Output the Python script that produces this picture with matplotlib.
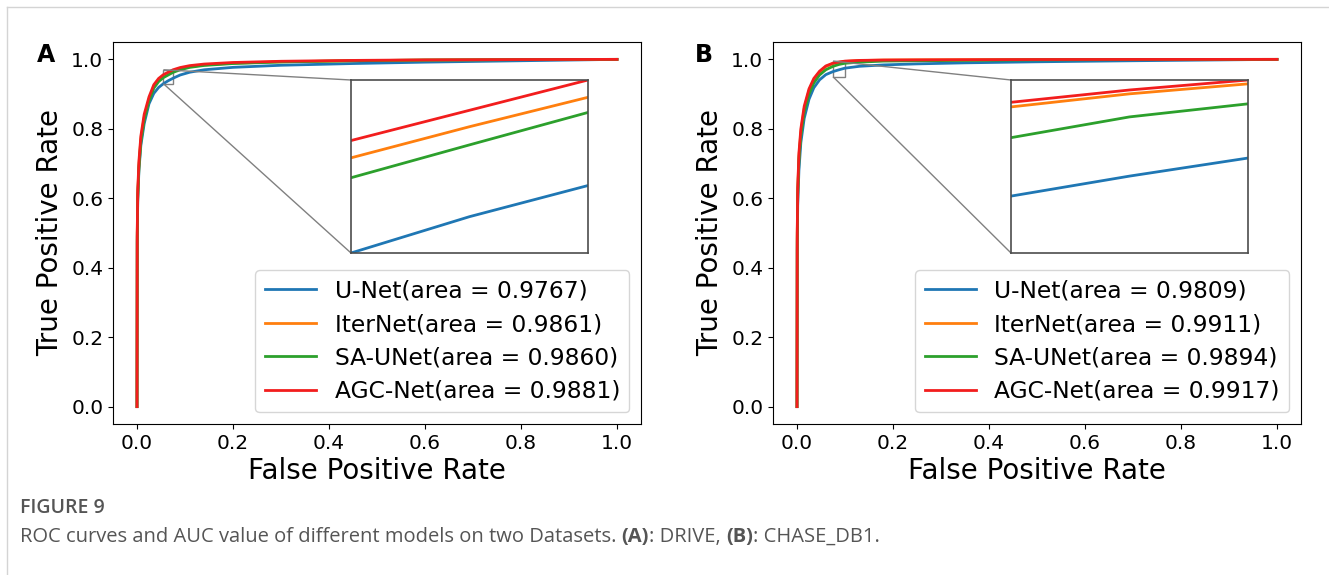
import matplotlib
matplotlib.use("Agg")
import matplotlib.pyplot as plt
from matplotlib.lines import Line2D
from mpl_toolkits.axes_grid1.inset_locator import mark_inset

# modelos e cores
modelos = ["U-Net", "IterNet", "SA-UNet", "AGC-Net"]
cores = ["#1f77b4", "#ff7f0e", "#2ca02c", "#f21d1d"]

# (A) DRIVE
auc_drive = [0.9767, 0.9861, 0.9860, 0.9881]
fpr_drive = [0, 0.0005, 0.0015, 0.004, 0.008, 0.015, 0.025, 0.035, 0.045, 0.055, 0.065,
             0.075, 0.09, 0.11, 0.14, 0.2, 0.3, 0.45, 0.6, 0.8, 1.0]
tpr_drive_unet = [0, 0.47, 0.59, 0.68, 0.752, 0.815, 0.872, 0.902, 0.919, 0.930, 0.9384,
                  0.9456, 0.955, 0.963, 0.970, 0.977, 0.983, 0.988, 0.992, 0.996, 1.0]
tpr_drive_iternet = [0, 0.49, 0.61, 0.695, 0.77, 0.833, 0.885, 0.921, 0.940, 0.952, 0.9592,
                     0.966, 0.973, 0.979, 0.984, 0.989, 0.993, 0.996, 0.998, 0.9993, 1.0]
tpr_drive_saunet = [0, 0.48, 0.60, 0.688, 0.762, 0.826, 0.88, 0.917, 0.936, 0.9474, 0.955,
                    0.9625, 0.970, 0.977, 0.9825, 0.988, 0.9925, 0.996, 0.998, 0.9993, 1.0]
tpr_drive_agc = [0, 0.50, 0.62, 0.707, 0.779, 0.842, 0.892, 0.927, 0.945, 0.956, 0.963,
                 0.970, 0.9765, 0.982, 0.9865, 0.991, 0.9945, 0.997, 0.9985, 0.9995, 1.0]

# (B) CHASE_DB1
auc_chase = [0.9809, 0.9911, 0.9894, 0.9917]
fpr_chase = [0, 0.0005, 0.0015, 0.004, 0.008, 0.015, 0.025, 0.035, 0.047, 0.06, 0.075,
             0.0875, 0.1, 0.13, 0.18, 0.25, 0.35, 0.5, 0.7, 0.85, 1.0]
tpr_chase_unet = [0, 0.45, 0.58, 0.68, 0.76, 0.83, 0.885, 0.918, 0.941, 0.956, 0.9648,
                  0.970, 0.9747, 0.980, 0.984, 0.987, 0.990, 0.993, 0.996, 0.998, 1.0]
tpr_chase_iternet = [0, 0.49, 0.62, 0.72, 0.79, 0.858, 0.91, 0.941, 0.963, 0.979, 0.988,
                     0.9914, 0.994, 0.9965, 0.998, 0.9985, 0.999, 0.9995, 0.9998, 0.9999, 1.0]
tpr_chase_saunet = [0, 0.48, 0.61, 0.71, 0.78, 0.848, 0.90, 0.932, 0.955, 0.970, 0.980,
                    0.9854, 0.9888, 0.992, 0.995, 0.996, 0.997, 0.9985, 0.9993, 0.9997, 1.0]
tpr_chase_agc = [0, 0.50, 0.63, 0.73, 0.80, 0.865, 0.915, 0.945, 0.966, 0.981, 0.9892,
                 0.9924, 0.995, 0.997, 0.998, 0.9985, 0.999, 0.9995, 0.9998, 0.9999, 1.0]

W, H = 1329, 575
fig = plt.figure(figsize=(W / 100, H / 100), dpi=100)


def px_box(x0, y0, x1, y1):
    # retângulo em pixels (origem no topo) -> coordenadas da figura
    return [x0 / W, 1 - y1 / H, (x1 - x0) / W, (y1 - y0) / H]


def painel(rect_ax, rect_ins, fpr, curvas, aucs, zoom_x, zoom_y, letra, letra_x):
    ax = fig.add_axes(px_box(*rect_ax))
    ins = fig.add_axes(px_box(*rect_ins))
    for nome, cor, tpr, auc in zip(modelos, cores, curvas, aucs):
        ax.plot(fpr, tpr, color=cor, lw=2, label=f"{nome}(area = {auc:.4f})")
        ins.plot(fpr, tpr, color=cor, lw=2)
    ax.set_xlabel("False Positive Rate", fontsize=20, labelpad=3)
    ax.set_ylabel("True Positive Rate", fontsize=20, labelpad=5)
    ax.tick_params(labelsize=14.5)
    ax.set_xticks([0, 0.2, 0.4, 0.6, 0.8, 1.0])
    ax.set_yticks([0, 0.2, 0.4, 0.6, 0.8, 1.0])
    ax.legend(loc="lower right", fontsize=16.8, handlelength=2.2, labelspacing=0.45)
    ins.set_xlim(*zoom_x)
    ins.set_ylim(*zoom_y)
    ins.set_xticks([])
    ins.set_yticks([])
    for s in ins.spines.values():
        s.set_color("0.3")
        s.set_linewidth(1.2)
    mark_inset(ax, ins, loc1=2, loc2=3, fc="none", ec="0.5", lw=1)
    fig.text(letra_x / W, 1 - 55 / H, letra, fontsize=17, fontweight="bold",
             ha="center", va="center")
    return ax


painel((113, 42, 641, 424), (351, 80, 588, 253), fpr_drive,
       [tpr_drive_unet, tpr_drive_iternet, tpr_drive_saunet, tpr_drive_agc],
       auc_drive, (0.055, 0.075), (0.93, 0.97), "A", 46)
painel((773, 42, 1301, 424), (1011, 80, 1248, 253), fpr_chase,
       [tpr_chase_unet, tpr_chase_iternet, tpr_chase_saunet, tpr_chase_agc],
       auc_chase, (0.075, 0.1), (0.95, 0.995), "B", 704)

# moldura cinza
fig.add_artist(Line2D([7 / W, 1], [1 - 7 / H, 1 - 7 / H], color="#d4d4d4", lw=1))
fig.add_artist(Line2D([7 / W, 7 / W], [0, 1 - 7 / H], color="#d4d4d4", lw=1))

# legenda da figura
fig.text(20 / W, 1 - 508 / H, "FIGURE 9", fontsize=14, color="#555555",
         family="Open Sans", fontweight="semibold", va="center")
partes = [("ROC curves and AUC value of different models on two Datasets. ", "normal"),
          ("(A)", "bold"), (": DRIVE, ", "normal"), ("(B)", "bold"), (": CHASE_DB1.", "normal")]
renderer = fig.canvas.get_renderer()
x = 20
for texto, peso in partes:
    t = fig.text(x / W, 1 - 537 / H, texto, fontsize=14.5, color="#555555",
                 family="Open Sans", fontweight=peso, va="center")
    x += t.get_window_extent(renderer).width

fig.savefig("out.png", dpi=100)
